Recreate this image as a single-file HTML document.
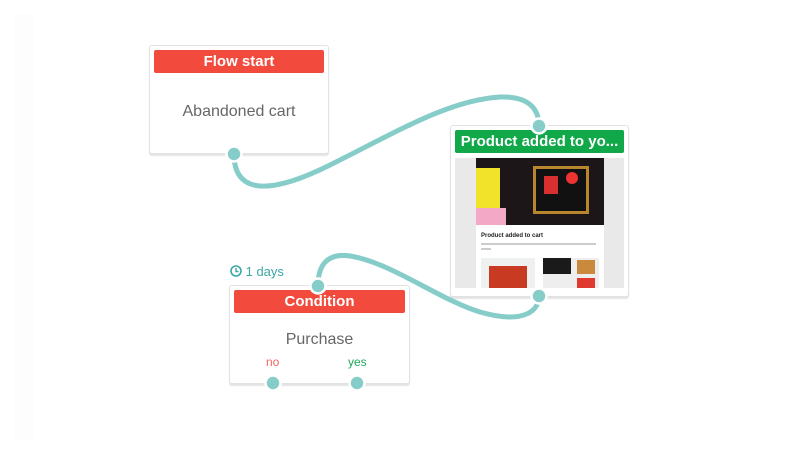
<!DOCTYPE html>
<html><head><style>
body{margin:0;width:800px;height:464px;background:#fff;position:relative;overflow:hidden;font-family:"Liberation Sans",sans-serif}
.card{position:absolute;background:#fff;border:1px solid #e2e2e2;border-radius:3px;box-shadow:0 2px 1px #e4e4e4}
.hd{position:absolute;left:4px;right:4px;top:4px;height:23px;color:#fff;font-weight:bold;font-size:15px;text-align:center;line-height:23px;border-radius:2px}
.red{background:#f24b3d}.green{background:#10a849}
.txt{position:absolute;left:0;right:0;text-align:center;color:#666;font-size:16px}
</style></head><body>
<div style="position:absolute;left:14px;top:14px;width:20px;height:426px;background:#fdfdfd"></div>
<div class="card" style="left:149px;top:45px;width:178px;height:107px">
<div class="hd red">Flow start</div>
<div class="txt" style="top:57px">Abandoned cart</div></div>
<div class="card" style="left:450px;top:125px;width:177px;height:170px">
<div class="hd green">Product added to yo...</div>
<div style="position:absolute;left:4px;top:32px;width:169px;height:130px;background:#e9e9e9">
<div style="position:absolute;left:21px;top:0;width:128px;height:130px;background:#fff">
<div style="position:absolute;left:0;top:0;width:128px;height:67px;background:#1c1618">
<div style="position:absolute;left:0;top:10px;width:24px;height:45px;background:#f1e22a"></div>
<div style="position:absolute;left:0;top:50px;width:30px;height:17px;background:#f3a9c6"></div>
<div style="position:absolute;left:57px;top:8px;width:50px;height:42px;border:3px solid #b8862d;background:#111"></div>
<div style="position:absolute;left:68px;top:18px;width:14px;height:18px;background:#d83030"></div>
<div style="position:absolute;left:90px;top:14px;width:12px;height:12px;border-radius:50%;background:#e33"></div></div>
<div style="position:absolute;left:5px;top:75px;font-size:6px;font-weight:bold;color:#222">Product added to cart</div>
<div style="position:absolute;left:5px;top:85px;width:115px;height:2px;background:#ccc"></div>
<div style="position:absolute;left:5px;top:90px;width:10px;height:2px;background:#ccc"></div>
<div style="position:absolute;left:5px;top:100px;width:54px;height:30px;background:#eef1ef"><div style="position:absolute;left:8px;top:8px;width:38px;height:22px;background:#c83a22"></div></div>
<div style="position:absolute;left:67px;top:100px;width:56px;height:30px;background:#eee"><div style="position:absolute;left:0;top:0;width:28px;height:16px;background:#1a1a1a"></div><div style="position:absolute;left:34px;top:2px;width:18px;height:14px;background:#c98a3e"></div><div style="position:absolute;left:34px;top:20px;width:18px;height:10px;background:#e03a30"></div></div>
</div></div></div>
<div class="card" style="left:229px;top:285px;width:179px;height:97px">
<div class="hd red">Condition</div>
<div class="txt" style="top:45px">Purchase</div>
<div style="position:absolute;left:36px;top:69px;font-size:12px;color:#f26a5f">no</div>
<div style="position:absolute;left:118px;top:69px;font-size:12px;color:#1fa85a">yes</div></div>
<div style="position:absolute;left:230px;top:264px;font-size:13px;color:#3aa8a4">
<svg width="12" height="12" style="vertical-align:-1px"><circle cx="6" cy="6" r="5" fill="none" stroke="#3aa8a4" stroke-width="1.6"/><path d="M6 3V6.5H8.5" fill="none" stroke="#3aa8a4" stroke-width="1.4"/></svg> 1 days</div>
<svg width="800" height="464" style="position:absolute;left:0;top:0">
<g fill="none" stroke="#86cdc9" stroke-width="5" stroke-linecap="round">
<path d="M234,154 C234,200 280,190 330,165 C400,130 450,100 500,97 C530,96 539,110 539,126"/>
<path d="M318,286 C318,262 330,253 350,256 C390,262 440,300 480,312 C525,325 539,310 539,296"/>
</g>
<g fill="#86cdc9" stroke="#fff" stroke-width="2.5">
<circle cx="234" cy="154" r="7.5"/><circle cx="539" cy="126" r="7.5"/><circle cx="539" cy="296" r="7.5"/>
<circle cx="318" cy="286" r="7.5"/><circle cx="273" cy="383" r="7.5"/><circle cx="357" cy="383" r="7.5"/>
</g></svg>
</body></html>
